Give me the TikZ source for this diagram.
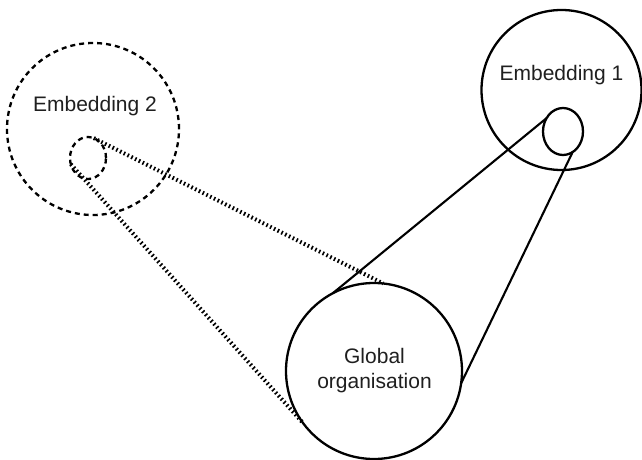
\documentclass[tikz,border=0pt]{standalone}
\usepackage{fontspec}
\setmainfont{Liberation Sans}
\usetikzlibrary{shapes.geometric}
\begin{document}
\begin{tikzpicture}[x=1pt,y=-1pt,
  solidring/.style={draw, circle, line width=2.3pt, inner sep=0pt, outer sep=0pt},
  dashring/.style={draw, circle, line width=2.3pt, dash pattern=on 5pt off 4pt, inner sep=0pt, outer sep=0pt},
  focus/.style={draw, ellipse, line width=2.3pt, inner sep=0pt, outer sep=0pt},
  link/.style={line width=2.1pt},
  hatch/.style={line width=4pt, dash pattern=on 1.6pt off 2.6pt},
  lbl/.style={font=\fontsize{21}{25}\selectfont, text=black!88, align=center}]
\useasboundingbox (0,0) rectangle (642,460);
% the three embeddings
\node[dashring, minimum size=172pt] (emb2) at (93,129) {};
\node[solidring, minimum size=160pt] (emb1) at (561.5,90) {};
\node[solidring, minimum size=176pt] (glob) at (374,371) {};
% local neighbourhoods inside the two embeddings
\node[focus, minimum width=40pt, minimum height=47pt] (f1) at (563,131.5) {};
\node[focus, dash pattern=on 5pt off 4pt, minimum width=36pt, minimum height=42pt] (f2) at (88,158) {};
% labels
\node[lbl, anchor=base] (t2) at (95,111) {Embedding 2};
\node[lbl, anchor=base] (t1) at (561.5,81) {Embedding 1};
\node[lbl] (tg) at (374.5,371) {Global\\organisation};
% projections onto the global organisation
\draw[link] (f1.141) -- (glob.118);
\draw[link] (f1.-65) -- (glob.-8);
\draw[hatch] (f2.74) -- (glob.84);
\draw[hatch] (f2.200) -- (glob.-144);
\end{tikzpicture}
\end{document}
